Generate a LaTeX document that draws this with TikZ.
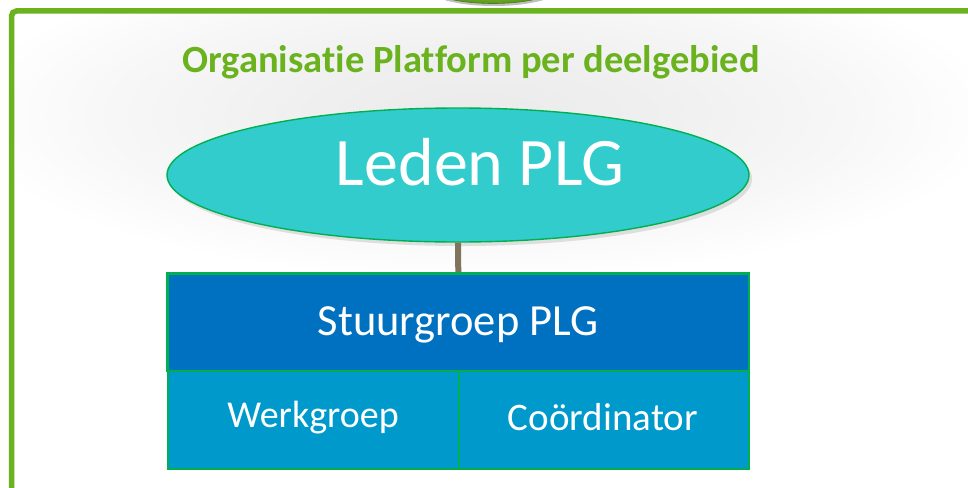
\documentclass[tikz,border=0pt]{standalone}
\usepackage{fontspec}
\setmainfont{Carlito}[Ligatures=NoCommon]
\usetikzlibrary{shapes.geometric,shadows}
\definecolor{framegreen}{RGB}{106,178,30}
\definecolor{titlegreen}{RGB}{106,178,30}
\definecolor{tealfill}{RGB}{51,204,204}
\definecolor{bordergreen}{RGB}{0,176,80}
\definecolor{darkblue}{RGB}{0,112,192}
\definecolor{midblue}{RGB}{0,153,204}
\definecolor{stem}{RGB}{127,116,92}
\definecolor{topgreen}{RGB}{140,198,63}
\pgfdeclareradialshading{glow}{\pgfpoint{0bp}{0bp}}{color(0bp)=(black!8); color(9bp)=(black!6); color(18bp)=(black!3); color(25bp)=(white); color(50bp)=(white)}
\begin{document}
\begin{tikzpicture}[x=1pt,y=-1pt,
  cell/.style={draw=bordergreen, line width=1.6pt, inner sep=0pt},
  celltext/.style={text=white, anchor=base, inner sep=0pt}]
\useasboundingbox (0,0) rectangle (968,487);
\fill[white] (0,0) rectangle (968,487);
\begin{scope}
\clip (14,14) rectangle (968,487);
\shade[shading=glow] (480,115) ellipse [x radius=520, y radius=165];
\end{scope}
% top green ellipse (cut off)
\begin{scope}
\clip (0,0) rectangle (968,6);
\fill[black!25] (494,-13) ellipse [x radius=68, y radius=19];
\shade[inner color=topgreen!80!white, outer color=framegreen!85!black, draw=framegreen!70!black, line width=0.6pt] (493,-15) ellipse [x radius=67, y radius=18.5];
\end{scope}
% frame
\draw[framegreen, line width=5.5pt, rounded corners=5pt] (11.5,500) -- (11.5,11) -- (990,11);
% title
\node[anchor=base, text=titlegreen, font=\fontsize{38.5}{38.5}\bfseries\selectfont, inner sep=0pt] (title) at (471,73) {Organisatie Platform per deelgebied};
\node[ellipse, draw=bordergreen, line width=1.4pt, fill=tealfill, minimum width=582pt, minimum height=134pt, inner sep=0pt,
  drop shadow={shadow xshift=3pt, shadow yshift=-4pt, opacity=0.22}] (leden) at (458,175) {};
\node[celltext, font=\fontsize{68}{68}\selectfont] (ledentext) at (480,185) {Leden PLG};
\node[cell, fill=darkblue, minimum width=581pt, minimum height=97pt, anchor=north west] (stuur) at (167,273) {};
\node[cell, fill=midblue, minimum width=291pt, minimum height=98pt, anchor=north west] (werk) at (167,370) {};
\node[cell, fill=midblue, minimum width=290pt, minimum height=98pt, anchor=north west] (coord) at (458,370) {};
\draw[stem, line width=6pt] (leden.south) -- (stuur.north);
\draw[bordergreen, line width=1.6pt] (stuur.north west) rectangle (stuur.south east);
\node[celltext, font=\fontsize{44.5}{44.5}\selectfont] (stuurtext) at (458,335) {Stuurgroep PLG};
\node[celltext, font=\fontsize{38}{38}\selectfont] (werktext) at (313,427) {Werkgroep};
\node[celltext, font=\fontsize{39}{39}\selectfont] (coordtext) at (603,430) {Coördinator};
\end{tikzpicture}
\end{document}
